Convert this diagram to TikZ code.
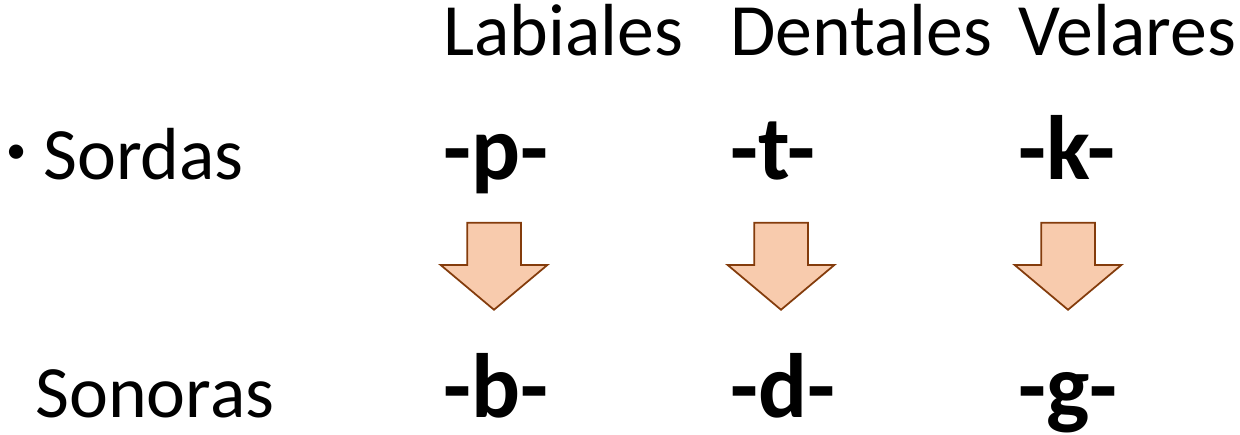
\documentclass[tikz,border=0pt]{standalone}
\usepackage{fontspec}
\setmainfont{Carlito}
\usepackage{tikz}
\usetikzlibrary{shapes.arrows,positioning}
\definecolor{ArrowFill}{HTML}{F8CBAD}
\definecolor{ArrowDraw}{HTML}{843C0C}
\tikzset{
    % Column headings
    headnode/.style={
        anchor=base west,
        inner sep=0pt,
        font=\fontsize{42}{50}\selectfont
    },
    % Row labels
    rownode/.style={
        headnode
    },
    % Bullet mark
    bulletnode/.style={
        anchor=center,
        inner sep=0pt,
        font=\fontsize{23}{28}\selectfont
    },
    % Consonants
    consnode/.style={
        anchor=base west,
        inner sep=0pt,
        font=\fontsize{52}{62}\selectfont\bfseries
    },
    % Block arrow
    shiftarrow/.style={
        single arrow,
        draw=ArrowDraw,
        fill=ArrowFill,
        line width=1pt,
        inner xsep=0.52cm,
        inner ysep=0pt,
        minimum height=1.74cm,
        single arrow head extend=0.53cm,
        single arrow tip angle=100,
        single arrow head indent=0pt,
        shape border rotate=270
    }
}
\begin{document}
\begin{tikzpicture}[x=0.02cm, y=-0.02cm]
    \useasboundingbox (0,0) rectangle (1240,435);

    % Headings
    \node[headnode] (lab) at (443,56) {Labiales};
    \node[headnode] (den) at (730,56) {Dentales};
    \node[headnode] (vel) at (1018,56) {Velares};

    % Rows
    \node[bulletnode] (bul) at (17,154) {\textbullet};
    \node[rownode] (sor) at (43,180) {Sordas};
    \node[rownode] (son) at (35,417) {Sonoras};

    % Voiceless
    \node[consnode] (p) at (443,180) {-p-};
    \node[consnode] (t) at (730,180) {-t-};
    \node[consnode] (k) at (1018,180) {-k-};

    % Voiced
    \node[consnode] (b) at (443,417) {-b-};
    \node[consnode] (d) at (730,417) {-d-};
    \node[consnode] (g) at (1018,417) {-g-};

    % Arrows
    \node[shiftarrow] (ap) at (494,255) {};
    \node[shiftarrow] (at) at (781,255) {};
    \node[shiftarrow] (ak) at (1068,255) {};
\end{tikzpicture}
\end{document}
